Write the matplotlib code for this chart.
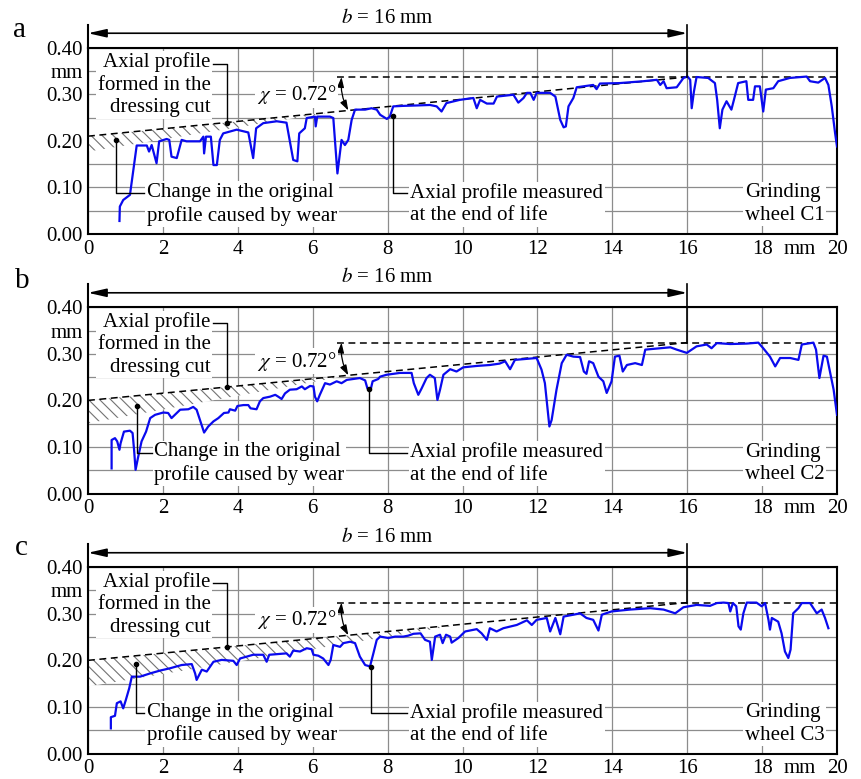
import numpy as np
import matplotlib.pyplot as plt

plt.rcParams['font.family'] = 'Liberation Serif'
plt.rcParams['mathtext.fontset'] = 'stix'
plt.rcParams['hatch.linewidth'] = 0.8
plt.rcParams['hatch.color'] = '0.45'

# axial profiles measured at the end of life: (x mm, height mm)
c1 = np.array([
    [0.84, 0.028], [0.85, 0.059], [0.94, 0.073], [1.12, 0.084], [1.30, 0.190],
    [1.57, 0.190], [1.63, 0.177], [1.70, 0.191], [1.83, 0.152], [1.90, 0.199],
    [2.10, 0.204], [2.17, 0.202], [2.23, 0.166], [2.37, 0.163], [2.50, 0.202],
    [2.63, 0.199], [2.99, 0.199], [3.08, 0.209], [3.10, 0.173], [3.15, 0.209],
    [3.28, 0.209], [3.35, 0.148], [3.44, 0.148], [3.52, 0.202], [3.61, 0.216],
    [3.79, 0.220], [3.97, 0.224], [4.28, 0.218], [4.41, 0.163], [4.49, 0.227],
    [4.68, 0.238], [5.04, 0.242], [5.30, 0.239], [5.48, 0.159], [5.59, 0.156],
    [5.64, 0.216], [5.79, 0.227], [5.84, 0.249], [6.06, 0.252], [6.08, 0.231],
    [6.12, 0.252], [6.46, 0.252], [6.55, 0.249], [6.66, 0.130], [6.77, 0.202],
    [6.86, 0.191], [6.95, 0.202], [7.04, 0.245], [7.13, 0.267], [7.40, 0.267],
    [7.57, 0.270], [7.71, 0.267], [7.80, 0.256], [7.98, 0.247], [8.06, 0.252],
    [8.15, 0.274], [8.40, 0.275], [8.80, 0.276], [9.13, 0.277], [9.31, 0.274],
    [9.44, 0.263], [9.57, 0.281], [9.93, 0.288], [10.29, 0.292], [10.38, 0.270],
    [10.47, 0.288], [10.65, 0.280], [10.83, 0.280], [10.92, 0.295], [11.36, 0.299],
    [11.49, 0.282], [11.63, 0.292], [11.72, 0.303], [11.81, 0.303], [11.90, 0.288],
    [11.98, 0.303], [12.34, 0.303], [12.48, 0.295], [12.61, 0.245], [12.70, 0.229],
    [12.76, 0.231], [12.83, 0.274], [12.96, 0.292], [13.05, 0.315], [13.49, 0.320],
    [13.58, 0.311], [13.67, 0.323], [14.20, 0.324], [14.83, 0.328], [15.19, 0.331],
    [15.28, 0.320], [15.37, 0.328], [15.45, 0.313], [15.72, 0.315], [15.90, 0.335],
    [16.01, 0.338], [16.08, 0.331], [16.12, 0.270], [16.18, 0.306], [16.25, 0.337],
    [16.56, 0.335], [16.74, 0.324], [16.80, 0.288], [16.87, 0.227], [16.94, 0.267],
    [17.05, 0.285], [17.18, 0.267], [17.27, 0.295], [17.36, 0.324], [17.58, 0.328],
    [17.63, 0.288], [17.76, 0.288], [17.81, 0.317], [17.94, 0.317], [18.03, 0.263],
    [18.10, 0.310], [18.30, 0.313], [18.43, 0.328], [18.74, 0.335], [19.19, 0.338],
    [19.28, 0.328], [19.50, 0.325], [19.68, 0.335], [19.77, 0.320], [19.86, 0.274],
    [19.95, 0.216], [20.00, 0.188],
])

c2 = np.array([
    [0.63, 0.054], [0.63, 0.115], [0.72, 0.119], [0.78, 0.112], [0.84, 0.094],
    [0.87, 0.108], [0.96, 0.133], [1.12, 0.135], [1.19, 0.130], [1.23, 0.094],
    [1.27, 0.051], [1.34, 0.079], [1.43, 0.112], [1.55, 0.133], [1.66, 0.162],
    [1.79, 0.169], [2.01, 0.174], [2.14, 0.173], [2.23, 0.162], [2.32, 0.169],
    [2.46, 0.180], [2.68, 0.181], [2.81, 0.186], [2.90, 0.180], [2.99, 0.158],
    [3.10, 0.131], [3.21, 0.144], [3.35, 0.155], [3.48, 0.162], [3.63, 0.173],
    [3.75, 0.174], [3.79, 0.181], [3.93, 0.178], [3.99, 0.188], [4.15, 0.190],
    [4.28, 0.190], [4.34, 0.183], [4.50, 0.181], [4.59, 0.198], [4.68, 0.205],
    [4.86, 0.208], [5.00, 0.212], [5.08, 0.208], [5.17, 0.203], [5.26, 0.215],
    [5.39, 0.223], [5.57, 0.224], [5.71, 0.230], [5.79, 0.224], [5.93, 0.231],
    [6.02, 0.230], [6.06, 0.208], [6.12, 0.198], [6.19, 0.212], [6.33, 0.237],
    [6.46, 0.234], [6.64, 0.241], [6.77, 0.237], [6.91, 0.244], [7.09, 0.246],
    [7.26, 0.248], [7.40, 0.243], [7.46, 0.226], [7.55, 0.224], [7.60, 0.241],
    [7.75, 0.246], [7.80, 0.251], [7.97, 0.255], [8.33, 0.259], [8.64, 0.259],
    [8.70, 0.237], [8.82, 0.212], [8.91, 0.226], [9.04, 0.248], [9.13, 0.255],
    [9.26, 0.248], [9.33, 0.201], [9.40, 0.223], [9.49, 0.255], [9.67, 0.267],
    [9.84, 0.262], [10.02, 0.271], [10.38, 0.274], [10.73, 0.276], [10.99, 0.279],
    [11.14, 0.284], [11.27, 0.267], [11.40, 0.287], [11.98, 0.291], [12.11, 0.266],
    [12.20, 0.237], [12.32, 0.144], [12.38, 0.158], [12.51, 0.223], [12.65, 0.280],
    [12.78, 0.298], [12.96, 0.294], [13.14, 0.293], [13.24, 0.262], [13.31, 0.257],
    [13.38, 0.284], [13.49, 0.280], [13.63, 0.251], [13.76, 0.241], [13.85, 0.216],
    [13.98, 0.241], [14.07, 0.294], [14.19, 0.296], [14.28, 0.262], [14.39, 0.276],
    [14.61, 0.280], [14.79, 0.276], [14.88, 0.309], [15.28, 0.312], [15.55, 0.314],
    [15.72, 0.309], [15.99, 0.302], [16.12, 0.309], [16.25, 0.316], [16.52, 0.320],
    [16.65, 0.312], [16.79, 0.323], [17.15, 0.321], [17.59, 0.322], [17.90, 0.324],
    [18.03, 0.312], [18.21, 0.294], [18.35, 0.273], [18.48, 0.291], [18.75, 0.291],
    [18.97, 0.287], [19.06, 0.320], [19.37, 0.324], [19.44, 0.309], [19.53, 0.248],
    [19.64, 0.296], [19.73, 0.294], [19.82, 0.258], [19.91, 0.223], [20.00, 0.169],
])

c3 = np.array([
    [0.61, 0.054], [0.61, 0.078], [0.72, 0.081], [0.77, 0.108], [0.87, 0.112],
    [0.94, 0.097], [1.01, 0.115], [1.10, 0.140], [1.17, 0.165], [1.39, 0.165],
    [1.66, 0.172], [1.92, 0.178], [2.19, 0.183], [2.50, 0.190], [2.77, 0.192],
    [2.86, 0.172], [2.90, 0.158], [3.04, 0.180], [3.17, 0.176], [3.35, 0.197],
    [3.57, 0.201], [3.88, 0.199], [3.97, 0.190], [4.06, 0.204], [4.41, 0.212],
    [4.68, 0.212], [4.77, 0.197], [4.84, 0.212], [5.30, 0.215], [5.39, 0.208],
    [5.48, 0.221], [5.66, 0.219], [5.84, 0.226], [5.97, 0.224], [6.02, 0.212],
    [6.15, 0.210], [6.28, 0.204], [6.42, 0.190], [6.48, 0.201], [6.55, 0.233],
    [6.73, 0.229], [6.82, 0.237], [7.00, 0.240], [7.13, 0.237], [7.26, 0.208],
    [7.40, 0.190], [7.53, 0.187], [7.62, 0.215], [7.71, 0.244], [7.80, 0.251],
    [8.02, 0.248], [8.20, 0.251], [8.42, 0.251], [8.55, 0.253], [8.69, 0.257],
    [8.88, 0.258], [9.00, 0.244], [9.13, 0.240], [9.18, 0.201], [9.27, 0.251],
    [9.40, 0.255], [9.47, 0.237], [9.56, 0.255], [9.67, 0.251], [9.71, 0.238],
    [9.89, 0.248], [10.07, 0.262], [10.38, 0.267], [10.51, 0.258], [10.65, 0.244],
    [10.73, 0.269], [10.91, 0.262], [11.09, 0.269], [11.45, 0.276], [11.72, 0.286],
    [11.85, 0.276], [11.98, 0.287], [12.25, 0.291], [12.34, 0.262], [12.48, 0.291],
    [12.61, 0.256], [12.70, 0.294], [12.96, 0.298], [13.14, 0.301], [13.31, 0.291],
    [13.49, 0.287], [13.63, 0.264], [13.72, 0.298], [13.98, 0.305], [14.47, 0.309],
    [15.01, 0.312], [15.37, 0.309], [15.68, 0.301], [15.90, 0.314], [16.25, 0.319],
    [16.61, 0.317], [16.79, 0.323], [16.97, 0.324], [17.10, 0.323], [17.15, 0.305],
    [17.22, 0.323], [17.31, 0.316], [17.37, 0.273], [17.43, 0.266], [17.50, 0.301],
    [17.59, 0.324], [17.85, 0.324], [17.99, 0.316], [18.08, 0.323], [18.17, 0.287],
    [18.21, 0.266], [18.26, 0.291], [18.43, 0.283], [18.52, 0.258], [18.61, 0.219],
    [18.70, 0.205], [18.76, 0.223], [18.83, 0.301], [18.97, 0.312], [19.06, 0.323],
    [19.28, 0.323], [19.37, 0.312], [19.46, 0.301], [19.59, 0.309], [19.68, 0.291],
    [19.77, 0.269],
])

profiles = [c1, c2, c3]
wheels = ['C1', 'C2', 'C3']
panel_letters = ['a', 'b', 'c']

# dressing-cut profile height at x = 0 and at x = b
b_width = 16
dress_start = [0.210, 0.200, 0.200]
dress_end = [0.337, 0.324, 0.324]
# lower edge of the wear band at x = 0 and where it meets the dressing profile
band_low = [0.177, 0.151, 0.144]
band_meet = [6.5, 7.0, 10.0]

x_ticks = [0, 2, 4, 6, 8, 10, 12, 14, 16, 18, 20]
y_ticks = [0.00, 0.05, 0.10, 0.15, 0.20, 0.25, 0.30, 0.35, 0.40]
y_labels = ['0.00', '', '0.10', '', '0.20', '', '0.30', 'mm', '0.40']

FS = 15
LS = 1.25
BLUE = '#0a0aee'
DASH = (0, (4.5, 3))
white_box = dict(facecolor='white', edgecolor='none', pad=1.0)

fig = plt.figure(figsize=(8.62, 7.79), dpi=100)
bottoms = [0.6996, 0.3664, 0.0327]
letter_pos = [(0.015, 0.9525), (0.017, 0.630), (0.017, 0.2875)]

# per-panel note placement
wear_text_x = [1.57, 1.77, 1.57]
wear_leader = [(0.75, 0.201), (1.30, 0.188), (1.28, 0.192)]
meas_leader = [(8.14, 0.254), (7.51, 0.224), (7.56, 0.185)]
note_y = [0.064, 0.0645, 0.063]
chi_y = [0.299, 0.284, 0.287]


def dress(i, x):
    return dress_start[i] + (dress_end[i] - dress_start[i]) * x / b_width


for i, bottom in enumerate(bottoms):
    ax = fig.add_axes([0.1021, bottom, 0.8689, 0.2392])
    ax.set_xlim(0, 20)
    ax.set_ylim(0, 0.40)
    ax.set_xticks(x_ticks)
    ax.set_xticks([19], ['mm'], minor=True)
    ax.set_yticks(y_ticks, y_labels)
    ax.tick_params(which='both', length=0, labelsize=FS)
    ax.tick_params(axis='x', which='both', pad=4)
    ax.tick_params(axis='y', pad=4)
    ax.grid(which='major', color='0.55', lw=0.9)
    for s in ax.spines.values():
        s.set_linewidth(1.5)

    # wear band between dressing profile and the worn edge
    m = band_meet[i]
    ax.fill_between([0, m], [dress(i, 0), dress(i, m)], [band_low[i], dress(i, m)],
                    facecolor='white', hatch='\\\\\\', edgecolor='0.45', lw=0, zorder=2)

    # dressing-cut profile and the horizontal reference
    ax.plot([0, b_width], [dress(i, 0), dress(i, b_width)], color='k', lw=1.1, ls=DASH, zorder=3)
    ax.plot([6.65, 20], [dress_end[i]] * 2, color='k', lw=1.1, ls=DASH, zorder=3)

    # measured profile
    p = profiles[i]
    ax.plot(p[:, 0], p[:, 1], color=BLUE, lw=1.6, zorder=4)

    # width b above the plot
    ax.plot([0, 0], [0.40, 0.449], color='k', lw=1.5, clip_on=False)
    ax.plot([b_width, b_width], [dress_end[i], 0.449], color='k', lw=1.2, clip_on=False, zorder=5)
    ax.annotate('', xy=(b_width, 0.431), xytext=(0, 0.431), annotation_clip=False,
                arrowprops=dict(arrowstyle='<|-|>,head_length=1.1,head_width=0.25',
                                color='k', lw=1.2, shrinkA=0, shrinkB=0, mutation_scale=10))
    ax.text(8.0, 0.463, '$b$ = 16 mm', ha='center', va='center', fontsize=FS, clip_on=False)

    # angle chi
    ax.annotate('', xy=(6.95, dress(i, 6.95)), xytext=(6.77, dress_end[i]),
                arrowprops=dict(arrowstyle='<|-|>,head_length=0.6,head_width=0.2',
                                connectionstyle='arc3,rad=0.15', color='k', lw=0.9,
                                shrinkA=0, shrinkB=0, mutation_scale=10), zorder=6)
    ax.text(5.57, chi_y[i], r'$\chi$ = 0.72°', ha='center', va='center', fontsize=FS,
            bbox=white_box, zorder=6)

    # dressing profile note
    ax.text(3.27, 0.320, 'Axial profile\nformed in the\ndressing cut', ha='right', va='center',
            multialignment='right', fontsize=FS, linespacing=LS, bbox=white_box, zorder=6)
    ly = 0.366
    ax.plot([3.35, 3.70, 3.70], [ly, ly, dress(i, 3.70)], color='k', lw=1.0, zorder=6)
    ax.plot(3.70, dress(i, 3.70), 'o', color='k', ms=3, zorder=6)

    # wear note
    tx = wear_text_x[i]
    ny = note_y[i]
    ax.text(tx, ny, 'Change in the original\nprofile caused by wear', ha='left', va='center',
            fontsize=FS, linespacing=LS, bbox=white_box, zorder=6)
    wx, wy = wear_leader[i]
    ax.plot([tx - 0.07, wx, wx], [ny + 0.023, ny + 0.023, wy], color='k', lw=1.0, zorder=6)
    ax.plot(wx, wy, 'o', color='k', ms=3, zorder=6)

    # measured profile note
    ax.text(8.60, ny, 'Axial profile measured\nat the end of life', ha='left', va='center',
            fontsize=FS, linespacing=LS, bbox=white_box, zorder=6)
    mx, my = meas_leader[i]
    ax.plot([8.53, mx, mx], [ny + 0.023, ny + 0.023, my], color='k', lw=1.0, zorder=6)
    ax.plot(mx, my, 'o', color='k', ms=3, zorder=6)

    ax.text(17.54, ny, 'Grinding\nwheel ' + wheels[i], ha='left', va='center',
            fontsize=FS, linespacing=LS, bbox=white_box, zorder=6)

    fig.text(*letter_pos[i], panel_letters[i], fontsize=21, va='baseline')

fig.savefig('out.png', dpi=100)
